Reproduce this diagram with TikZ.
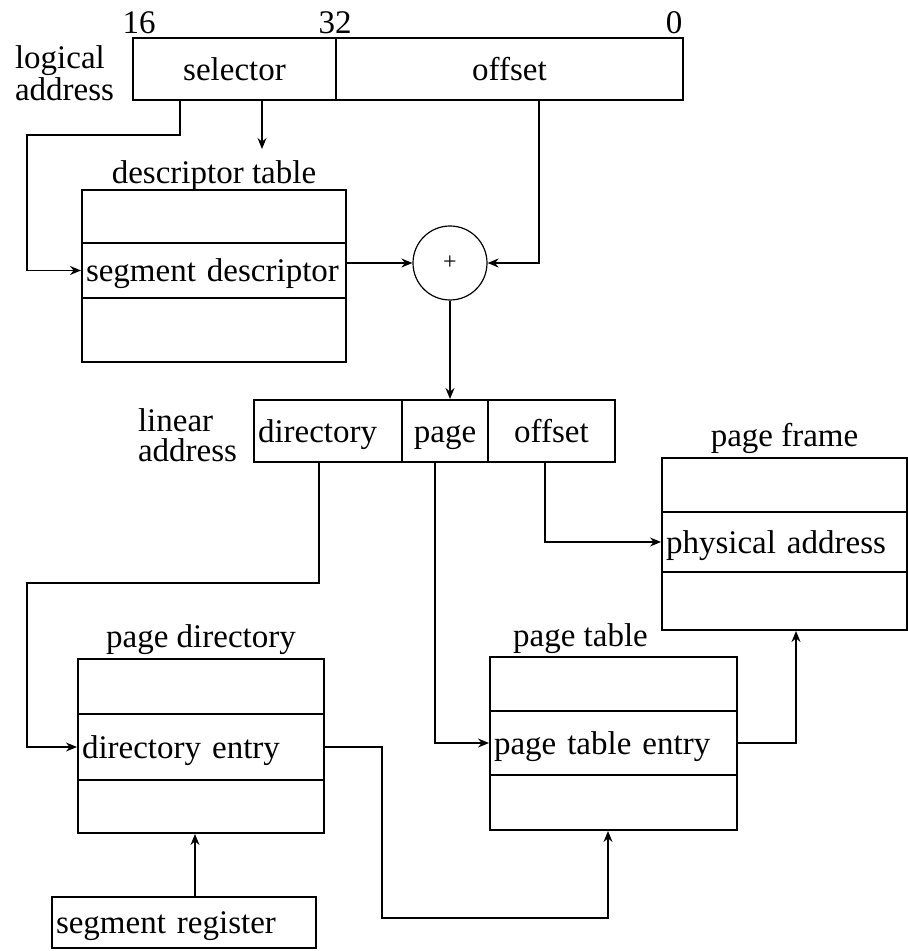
\documentclass[tikz,border=0pt]{standalone}
\usepackage{fontspec}
\setmainfont{Liberation Serif}
\usetikzlibrary{arrows.meta,calc}
\newcommand{\pu}{0.5pt}
\tikzset{
	cell/.style n args={2}{draw, line width=1pt, inner sep=0pt,
		text height=2.4ex, text depth=0pt,
		minimum width=#1*\pu, minimum height=#2*\pu},
	entry/.style n args={2}{cell={#1}{#2}, align=left,
		text width={#1*\pu-4pt}},
	lbl/.style={align=left, anchor=west},
	conn/.style={line width=0.8pt, -{Stealth[length=5.5pt,width=4.5pt]}}
}
\begin{document}
\begin{tikzpicture}[x=\pu, y=-\pu, font=\fontsize{16.5}{15}\selectfont]
	\useasboundingbox (0,0) rectangle (908,951);
	% logische Adresse
	\node (b16) at (139,23) {16};
	\node (b32) at (335,23) {32};
	\node (b0) at (674,23) {0};
	\node[cell={203}{62}] (sel) at (234.5,69) {selector};
	\node[cell={347}{62}] (off) at (509.5,69) {offset};
	\node[lbl] (logaddr) at (8,73) {logical\\address};

	% Deskriptortabelle
	\node[cell={264}{53}] (dttop) at (214,216.5) {};
	\node[entry={264}{55}] (segdesc) at (214,270.5) {segment descriptor};
	\node[cell={264}{64}] (dtbot) at (214,330) {};
	\node[anchor=base] (dtlabel) at ($(dttop.north)+(0,-5)$) {descriptor table};
	\node[draw, circle, line width=0.6pt, minimum size=74*\pu, inner sep=0pt]
		(plus) at (450,263) {\fontsize{12}{12}\selectfont +};

	% lineare Adresse
	\node[entry={148}{62}] (ldir) at (328,431) {directory};
	\node[cell={86}{62}] (lpage) at (445,431) {page};
	\node[cell={127}{62}] (loff) at (551.5,431) {offset};
	\node[lbl] (linaddr) at (131,435) {linear\\address};

	% Seitenrahmen
	\node[cell={245}{54}] (pftop) at (784.5,485) {};
	\node[entry={245}{60}] (physaddr) at (784.5,542) {physical address};
	\node[cell={245}{58}] (pfbot) at (784.5,601) {};
	\node[anchor=base] (pflabel) at ($(pftop.north)+(0,-11)$) {page frame};

	% Seitenverzeichnis
	\node[cell={246}{55}] (pdtop) at (201,686.5) {};
	\node[entry={246}{66}] (direntry) at (201,747) {directory entry};
	\node[cell={246}{53}] (pdbot) at (201,806.5) {};
	\node[anchor=base] (pdlabel) at ($(pdtop.north)+(0,-11)$) {page directory};

	% Seitentabelle
	\node[cell={247}{54}] (pttop) at (613.5,684) {};
	\node[entry={247}{64}] (ptentry) at (613.5,743) {page table entry};
	\node[cell={247}{55}] (ptbot) at (613.5,802.5) {};
	\node[anchor=base] (ptlabel) at ($(pttop.north)+(-33,-10)$) {page table};

	\node[entry={264}{51}] (segreg) at (184,922.5) {segment register};

	% Verbindungen
	\draw[conn] ($(sel.south west)+(48,0)$) |- (27,135) |- (segdesc.west);
	\draw[conn] ($(sel.south west)+(130,0)$) -- ++(0,48);
	\draw[conn] (segdesc.east |- plus.west) -- (plus.west);
	\draw[conn] ($(off.south west)+(204,0)$) |- (plus.east);
	\draw[conn] (plus.south) -- (plus.south |- lpage.north);
	\draw[conn] ($(ldir.south west)+(66,0)$) |- (27,583) |- (direntry.west);
	\draw[conn] ($(lpage.south west)+(34,0)$) |- (ptentry.west);
	\draw[conn] ($(loff.south west)+(58,0)$) |- (physaddr.west);
	\draw[conn] ($(segreg.north)+(11,0)$) -- ($(pdbot.south)+(-6,0)$);
	\draw[conn] (direntry.east) -| (382,918) -| ($(ptbot.south)+(-5.5,0)$);
	\draw[conn] (ptentry.east) -| ($(pfbot.south)+(11.5,0)$);
\end{tikzpicture}
\end{document}
